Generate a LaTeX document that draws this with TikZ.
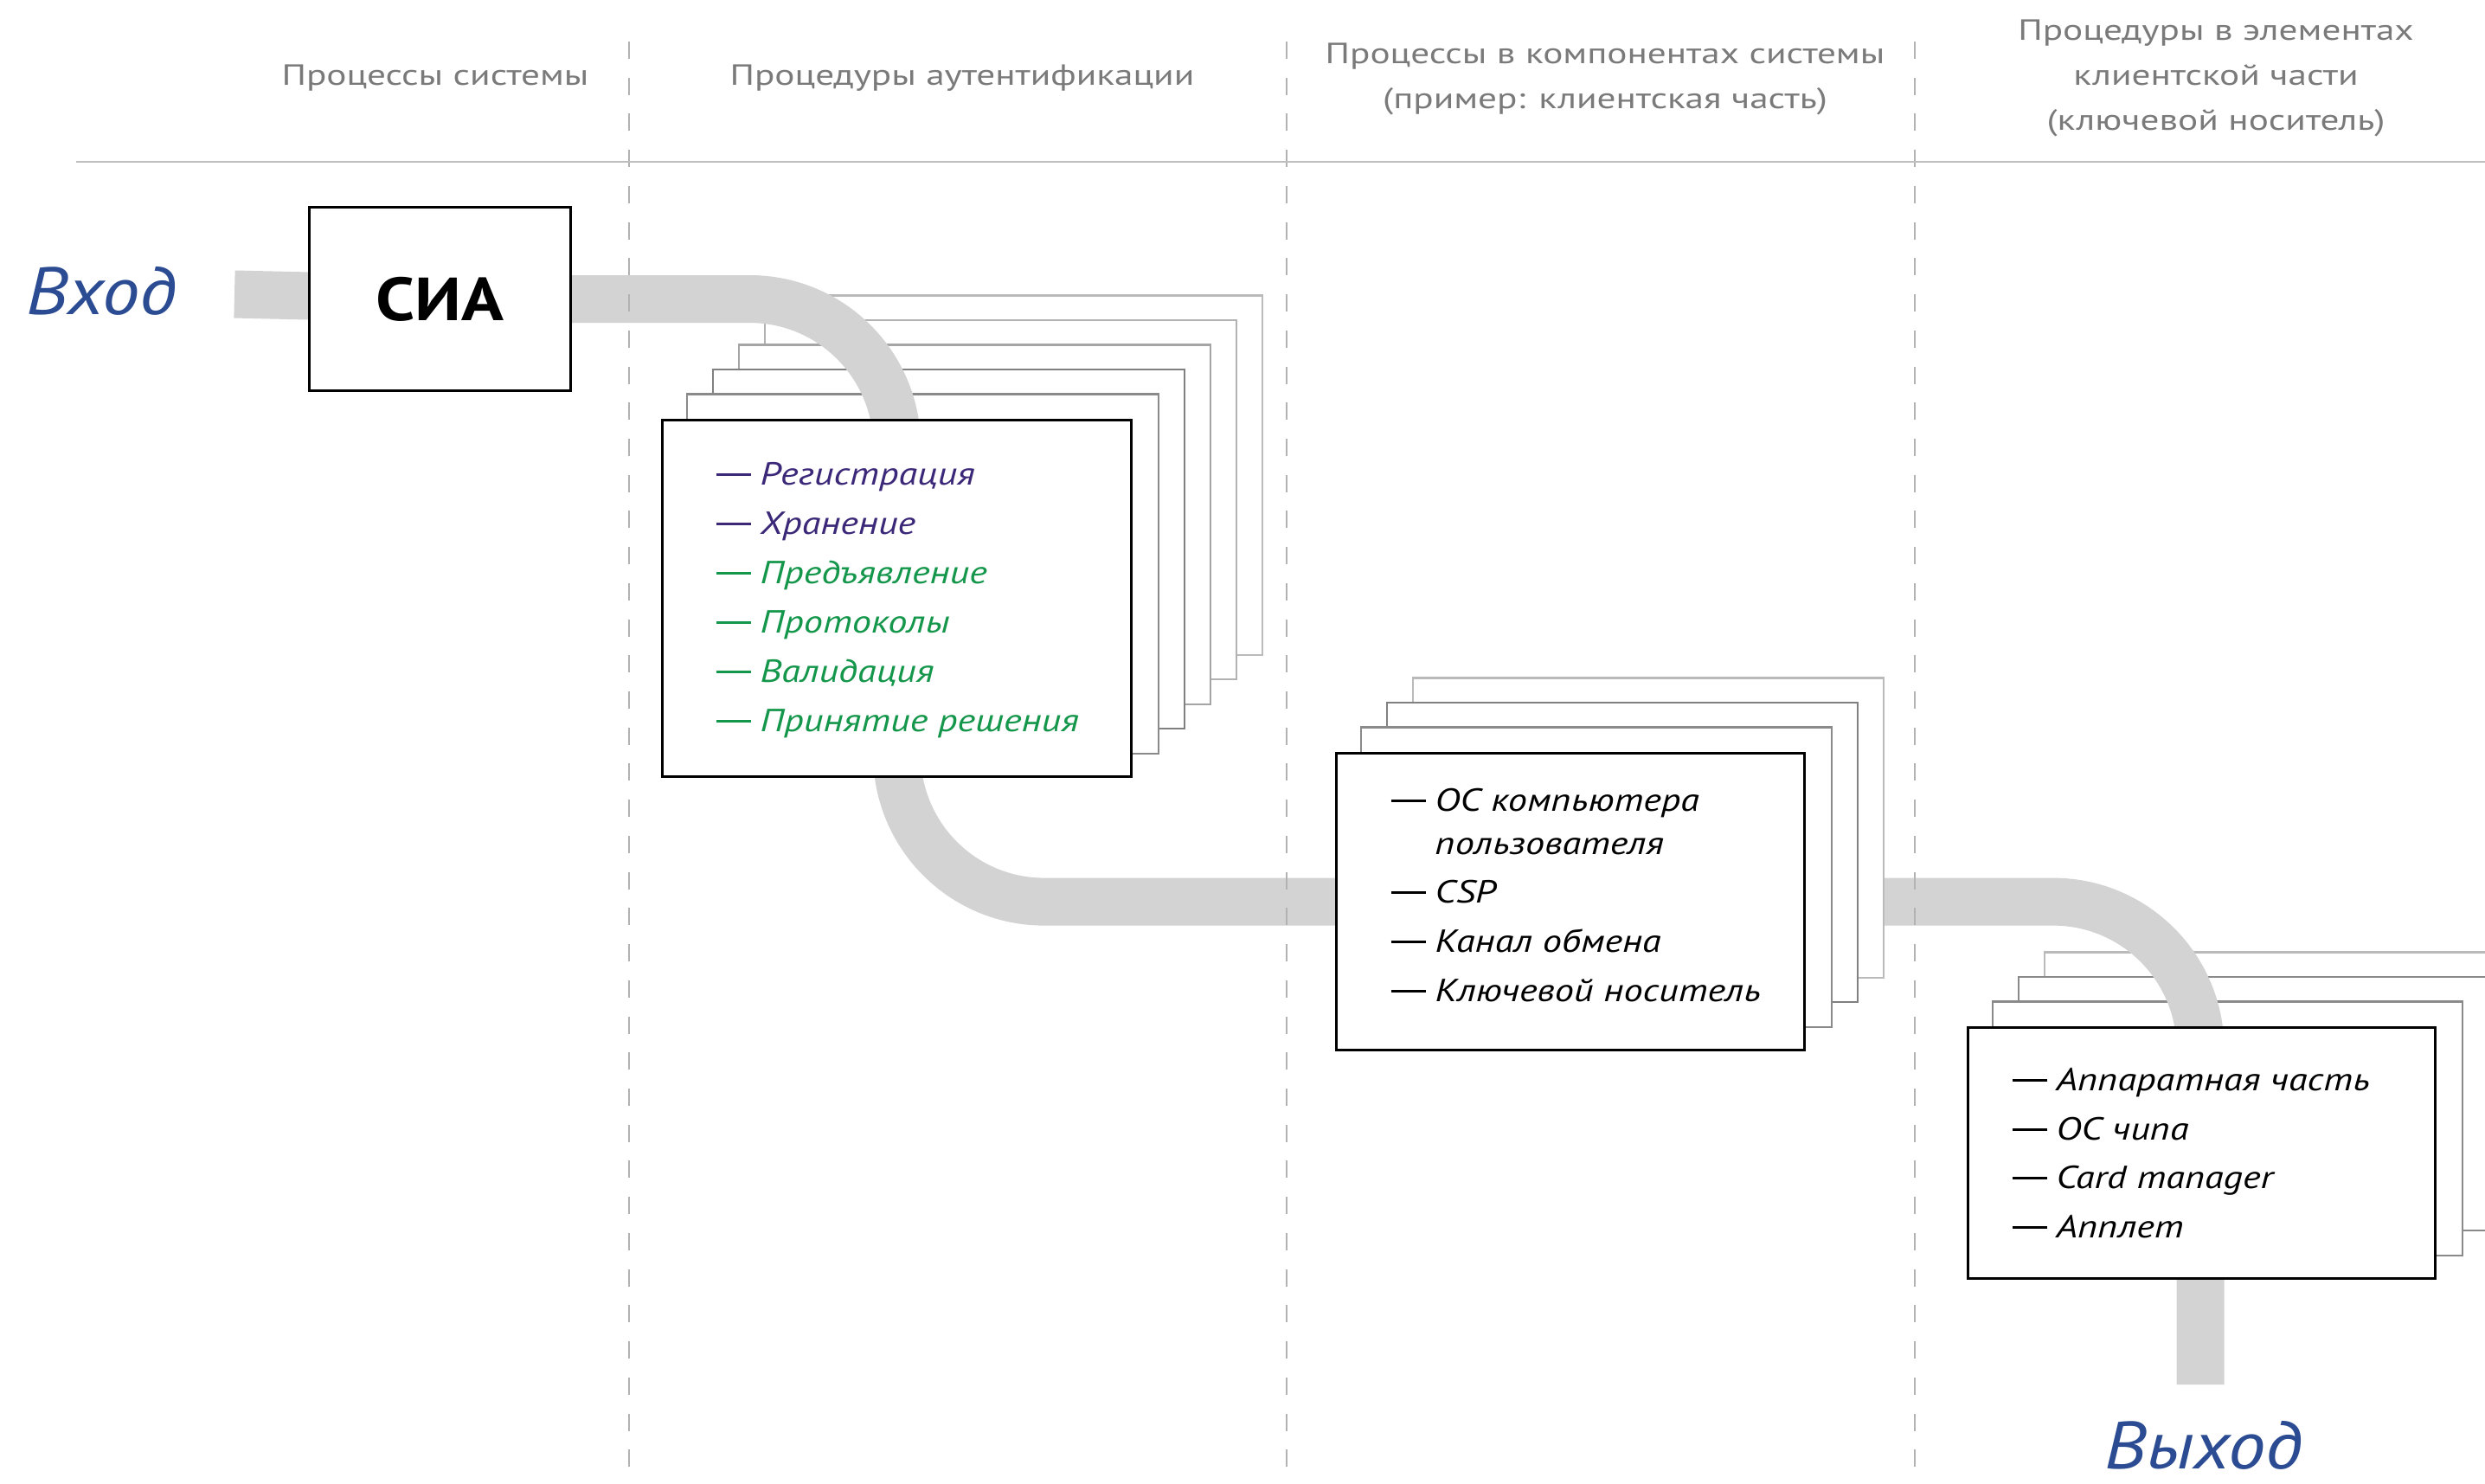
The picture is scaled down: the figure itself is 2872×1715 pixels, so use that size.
\documentclass[tikz,border=0pt]{standalone}
\usepackage{fontspec}
\setmainfont{PT Sans}
\newfontfamily\headfont{PT Sans}[FakeStretch=1.28]
\newfontfamily\itemfont{PT Sans}[FakeStretch=1.2]
\newfontfamily\cardfont{PT Sans}[FakeStretch=1.15]
\newfontfamily\iofont{PT Sans}[FakeStretch=1.12]
\pgfdeclarelayer{back}
\pgfdeclarelayer{flow}
\pgfsetlayers{back,flow,main}

\definecolor{flowgray}{RGB}{211,211,211}
\definecolor{captiongray}{RGB}{122,122,122}
\definecolor{rulegray}{RGB}{190,190,190}
\definecolor{gridgray}{RGB}{178,178,178}
\definecolor{ioblue}{RGB}{43,76,146}
\definecolor{itemviolet}{RGB}{60,40,120}
\definecolor{itemgreen}{RGB}{20,150,75}
\definecolor{sheetA}{RGB}{138,138,138}
\definecolor{sheetB}{RGB}{128,128,128}
\definecolor{sheetC}{RGB}{165,165,165}
\definecolor{sheetD}{RGB}{178,178,178}
\definecolor{sheetE}{RGB}{186,186,186}

% long dash that opens every list entry
\newcommand\itemdash{\rule[0.27em]{1.1em}{0.07em}\hspace{0.28em}}

\tikzset{
  caption/.style={text=captiongray, font=\headfont\fontsize{9.6}{12}\selectfont, anchor=base, inner sep=0pt},
  card/.style={draw=black, line width=0.85pt, fill=white, anchor=north west, inner sep=0pt},
  sheet/.style={draw=#1, line width=0.6pt, fill=white},
  item/.style={anchor=base west, inner sep=0pt, font=\itemfont\itshape\fontsize{10.5}{12}\selectfont},
  flow/.style={draw=flowgray, line width=0.55cm, rounded corners=1.7cm},
  column/.style={draw=gridgray, line width=0.55pt, dash pattern=on 0.2cm off 0.217cm},
  io/.style={text=ioblue, font=\iofont\itshape\fontsize{22}{26}\selectfont, anchor=base, inner sep=0pt},
}

% stacked sheets behind a card: #1 = card node, #2 = list of level/colour
\newcommand\sheetstack[2]{%
  \foreach \k/\c in {#2}{%
    \draw[sheet=\c] ([shift={(30*\k,-28.5*\k)}]#1.north west)
      rectangle ([shift={(30*\k,-28.5*\k)}]#1.south east);
  }%
}

\begin{document}
\begin{tikzpicture}[x=0.01cm,y=-0.01cm]
\useasboundingbox (0,0) rectangle (2872,1715);

% column guides and header rule
\foreach \gx in {727,1487,2213}
  \draw[column] (\gx,48) -- (\gx,1715);
\draw[rulegray, line width=0.5pt] (88,187) -- (2872,187);

% column captions
\node[caption] (h1)  at (503,98)   {Процессы системы};
\node[caption] (h2)  at (1112,98)  {Процедуры аутентификации};
\node[caption] (h3a) at (1855,73)  {Процессы в компонентах системы};
\node[caption] (h3b) at (1855,125) {(пример: клиентская часть)};
\node[caption] (h4a) at (2561,47)  {Процедуры в элементах};
\node[caption] (h4b) at (2561,98)  {клиентской части};
\node[caption] (h4c) at (2561,150) {(ключевой носитель)};

% entry / exit labels
\node[io] (entry) at (117,363) {Вход};
\node[io] (exit)  at (2547,1697) {Выход};
\coordinate (in)  at (271,340);
\coordinate (out) at (2543,1600);

% stack 2 sheets lie above the flow band
\node[card, minimum width=5.41cm, minimum height=3.43cm] (comp) at (1543,869) {};
\sheetstack{comp}{3/sheetE,2/sheetB,1/sheetA}

% cards
\node[card, minimum width=3.02cm, minimum height=2.12cm,
      font=\cardfont\bfseries\fontsize{20}{24}\selectfont] (sia) at (356,238) {СИА};
\node[card, minimum width=5.42cm, minimum height=4.12cm] (auth) at (764,484) {};
\node[card, minimum width=5.41cm, minimum height=3.43cm] (comp) at (1543,869) {};
\node[card, minimum width=5.40cm, minimum height=2.90cm] (key)  at (2273,1186) {};

% sheets under the flow band
\begin{pgfonlayer}{back}
  \begin{scope}
    \clip (0,0) rectangle (2872,1715);
    \sheetstack{auth}{5/sheetE,4/sheetD,3/sheetC,2/sheetB,1/sheetA}
    \sheetstack{key}{3/sheetE,2/sheetA,1/sheetA}
  \end{scope}
\end{pgfonlayer}

% flow band
\begin{pgfonlayer}{flow}
  \draw[flow] (in) -- (sia.center) -| (auth.center) |- (comp.center) -| (out);
\end{pgfonlayer}

% item lists
\foreach \t/\col [count=\i from 0] in {Регистрация/itemviolet, Хранение/itemviolet,
    Предъявление/itemgreen, Протоколы/itemgreen, Валидация/itemgreen,
    Принятие решения/itemgreen}
  \node[item, text=\col] (auth-\i) at (827,560+57*\i) {\itemdash\t};

\node[item] (comp-0)  at (1607,937)  {\itemdash ОС компьютера};
\node[item] (comp-0b) at (1607,987)  {\phantom{\itemdash}пользователя};
\node[item] (comp-1)  at (1607,1043) {\itemdash CSP};
\node[item] (comp-2)  at (1607,1100) {\itemdash Канал обмена};
\node[item] (comp-3)  at (1607,1157) {\itemdash Ключевой носитель};

\node[item] (key-0) at (2325,1260) {\itemdash Аппаратная часть};
\node[item] (key-1) at (2325,1317) {\itemdash ОС чипа};
\node[item] (key-2) at (2325,1373) {\itemdash Card manager};
\node[item] (key-3) at (2325,1430) {\itemdash Апплет};
\end{tikzpicture}
\end{document}
